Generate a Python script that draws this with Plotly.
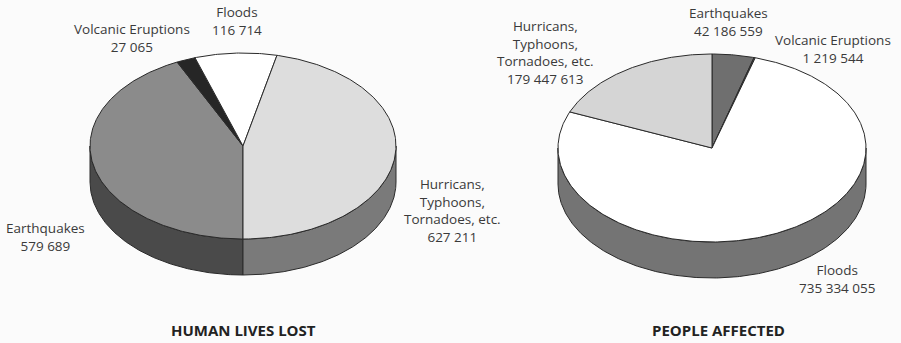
import numpy as np
import plotly.graph_objects as go

# ---------------- data ----------------
categories = ["Earthquakes", "Volcanic Eruptions", "Floods",
              "Hurricans, Typhoons, Tornadoes, etc."]
category_labels = ["Earthquakes", "Volcanic Eruptions", "Floods",
                   "Hurricans,<br>Typhoons,<br>Tornadoes, etc."]
lives_lost = [579689, 27065, 116714, 627211]
people_affected = [42186559, 1219544, 735334055, 179447613]
chart_titles = ["HUMAN LIVES LOST", "PEOPLE AFFECTED"]

# ---------------- layout / style ----------------
W, H = 901, 343
pies = [
    dict(values=lives_lost, cx=243, cy=146, rx=153, ry=93, depth=36, start=180,
         top=["#8b8b8b", "#262626", "#ffffff", "#dddddd"],
         side=["#4a4a4a", "#1a1a1a", "#bdbdbd", "#7a7a7a"],
         label_pos=[(45, 237), (132, 38), (237, 21), (452, 210)],
         title_pos=(243, 330)),
    dict(values=people_affected, cx=712, cy=148, rx=154, ry=94, depth=36, start=0,
         top=["#6f6f6f", "#555555", "#ffffff", "#d5d5d5"],
         side=["#4a4a4a", "#333333", "#747474", "#8a8a8a"],
         label_pos=[(728, 22), (833, 49), (837, 279), (545, 52)],
         title_pos=(718, 330)),
]
EDGE = "#2a2a2a"
TEXT = "#3a3a3a"
FONT = "Open Sans"


def arc(p, a1, a2, dy=0.0):
    n = max(2, int(abs(a2 - a1) * 1.5) + 2)
    t = np.radians(np.linspace(a1, a2, n))
    return p["cx"] + p["rx"] * np.sin(t), p["cy"] - p["ry"] * np.cos(t) + dy


fig = go.Figure()

for p in pies:
    vals = np.array(p["values"], dtype=float)
    frac = vals / vals.sum()
    bounds = p["start"] + np.concatenate([[0], np.cumsum(frac) * 360])
    # side walls (visible front half: 90..270 deg clockwise from top)
    for i in range(len(vals)):
        a1, a2 = bounds[i], bounds[i + 1]
        for shift in (-360, 0, 360):
            s = max(a1 + shift, 90)
            e = min(a2 + shift, 270)
            if e > s:
                xt, yt = arc(p, s, e)
                xb, yb = arc(p, e, s, p["depth"])
                fig.add_trace(go.Scatter(
                    x=np.concatenate([xt, xb, xt[:1]]),
                    y=np.concatenate([yt, yb, yt[:1]]),
                    mode="lines", fill="toself", fillcolor=p["side"][i],
                    line=dict(color=EDGE, width=1), hoverinfo="skip",
                    showlegend=False))
    # top faces
    for i in range(len(vals)):
        xa, ya = arc(p, bounds[i], bounds[i + 1])
        fig.add_trace(go.Scatter(
            x=np.concatenate([[p["cx"]], xa, [p["cx"]]]),
            y=np.concatenate([[p["cy"]], ya, [p["cy"]]]),
            mode="lines", fill="toself", fillcolor=p["top"][i],
            line=dict(color=EDGE, width=1), hoverinfo="skip",
            showlegend=False))
    # labels
    for i, (lx, ly) in enumerate(p["label_pos"]):
        num = f"{p['values'][i]:,}".replace(",", " ")
        fig.add_annotation(x=lx, y=ly, xref="x", yref="y",
                           text=f"{category_labels[i]}<br>{num}",
                           showarrow=False, align="center",
                           font=dict(family=FONT, size=13.5, color=TEXT))

for p, t in zip(pies, chart_titles):
    fig.add_annotation(x=p["title_pos"][0], y=p["title_pos"][1], xref="x", yref="y",
                       text=f"<b>{t}</b>", showarrow=False,
                       font=dict(family=FONT, size=15, color="#222222"))

fig.update_layout(
    width=W, height=H, margin=dict(l=0, r=0, t=0, b=0),
    paper_bgcolor="#fbfbfb", plot_bgcolor="#fbfbfb",
    xaxis=dict(range=[0, W], visible=False, fixedrange=True),
    yaxis=dict(range=[H, 0], visible=False, fixedrange=True),
)

fig.write_html("out.html")
